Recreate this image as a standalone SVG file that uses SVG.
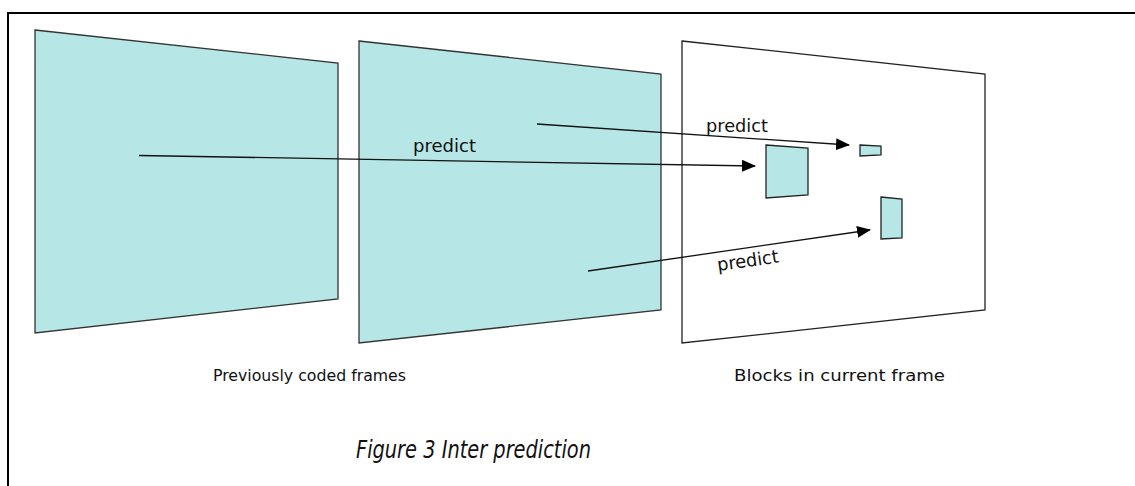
<svg xmlns="http://www.w3.org/2000/svg" width="1135" height="486" viewBox="0 0 1135 486">
<style>
.frame{fill:#b6e6e6;stroke:#333;stroke-width:1.3}
.cur{fill:#ffffff;stroke:#222;stroke-width:1.3}
.blk{fill:#b6e6e6;stroke:#222;stroke-width:1.3}
.conn{stroke:#111;stroke-width:1.3;fill:none;marker-end:url(#ah)}
.lbl{font-family:"DejaVu Sans","Liberation Sans",sans-serif;font-size:18px;fill:#111}
.cap{font-family:"DejaVu Sans","Liberation Sans",sans-serif;font-size:16px;fill:#111}
.title{font-family:"DejaVu Sans","Liberation Sans",sans-serif;font-size:24px;font-style:italic;fill:#111}
</style>
<defs>
<marker id="ah" markerUnits="userSpaceOnUse" markerWidth="14" markerHeight="12" refX="13" refY="6" orient="auto">
<path d="M0,0 L14,6 L0,12 Z" fill="#000"/>
</marker>
</defs>
<rect x="0" y="0" width="1135" height="486" fill="#fff"/>
<rect x="8" y="13" width="1140" height="490" fill="none" stroke="#000" stroke-width="2"/>
<g id="frame1"><polygon class="frame" points="35,30 338,63 338,299 35,333"/></g>
<g id="frame2"><polygon class="frame" points="359,41 661,74 661,310 359,343"/></g>
<g id="frame3"><polygon class="cur" points="682,41 985,74 985,310 682,343"/></g>
<g id="block1"><polygon class="blk" points="766,145 808,148 808,195 766,198"/></g>
<g id="block2"><polygon class="blk" points="860,145 881,146 881,155 860,156"/></g>
<g id="block3"><polygon class="blk" points="881,197 902,199 902,238 881,239"/></g>
<g id="connectors">
<line class="conn" x1="537" y1="124" x2="849" y2="145"/>
<line class="conn" x1="139" y1="155.5" x2="755" y2="166"/>
<line class="conn" x1="588" y1="271" x2="870" y2="230"/>
</g>
<text class="lbl" x="706" y="131.5" textLength="62" lengthAdjust="spacingAndGlyphs">predict</text>
<text class="lbl" x="413" y="151.5" textLength="63" lengthAdjust="spacingAndGlyphs">predict</text>
<text class="lbl" transform="translate(718,271) rotate(-8)" x="0" y="0" textLength="62" lengthAdjust="spacingAndGlyphs">predict</text>
<text class="cap" x="213" y="381" textLength="193" lengthAdjust="spacingAndGlyphs">Previously coded frames</text>
<text class="cap" x="734" y="381" textLength="211" lengthAdjust="spacingAndGlyphs">Blocks in current frame</text>
<text class="title" x="356" y="458" textLength="235" lengthAdjust="spacingAndGlyphs">Figure 3 Inter prediction</text>
</svg>
